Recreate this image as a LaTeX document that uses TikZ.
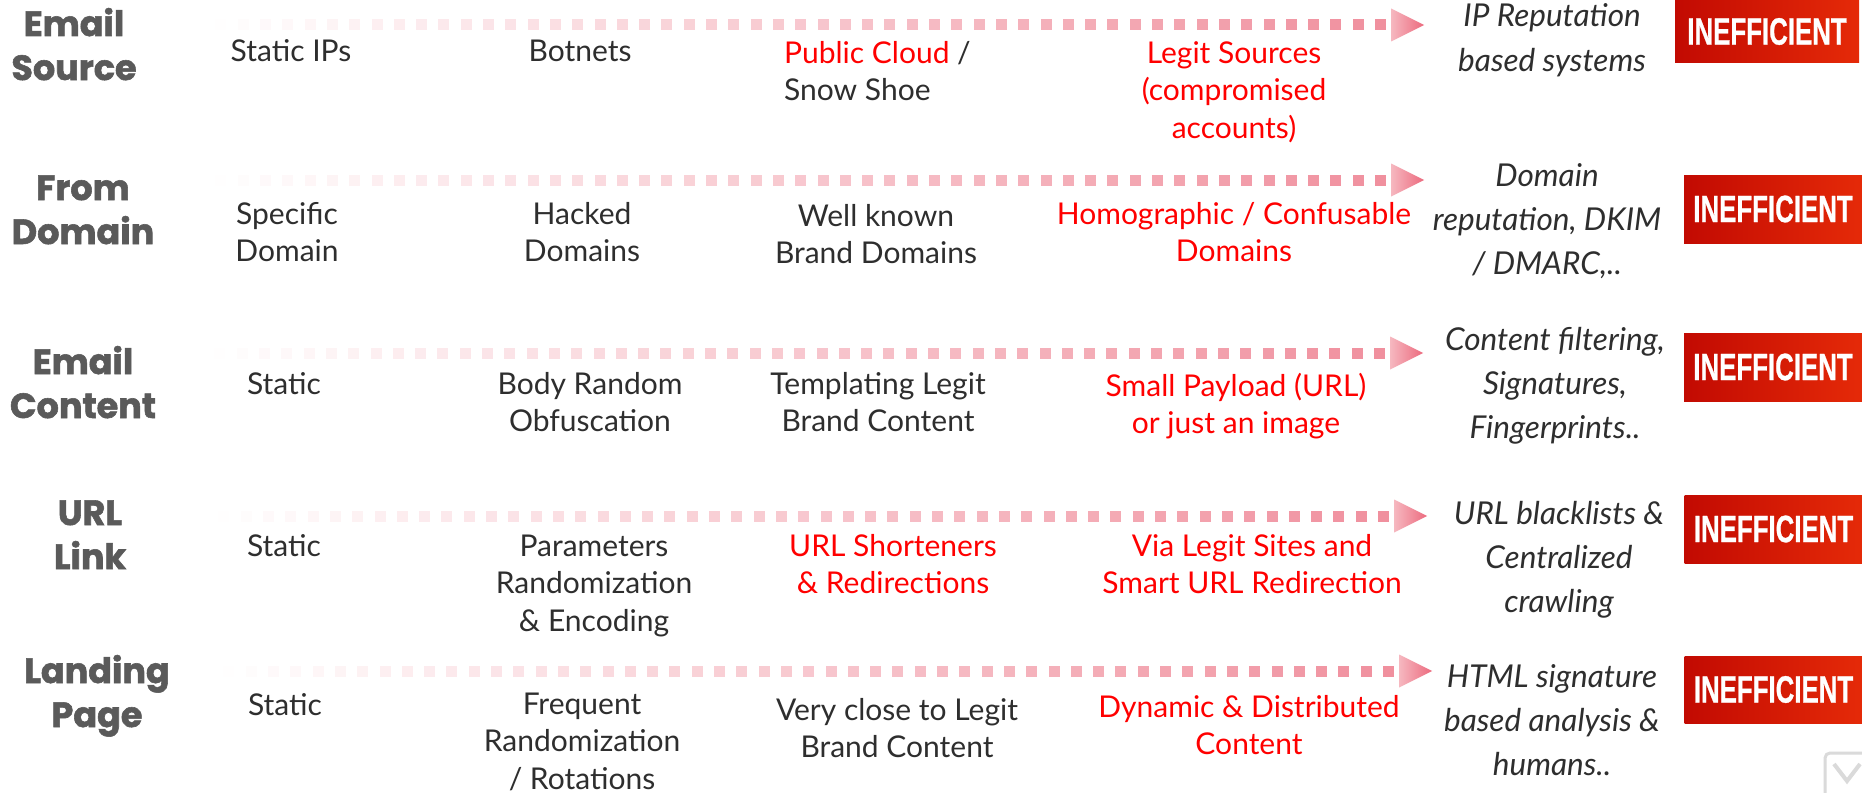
\documentclass[tikz,border=0pt]{standalone}
\usepackage{fontspec}
\usepackage{graphicx}
\setmainfont{Lato}
\newfontfamily\labfont{Poppins}[BoldFeatures={FakeBold=1.6}]
\newfontfamily\badgefont{Liberation Sans}[BoldFeatures={FakeBold=0.8}]
\usetikzlibrary{calc}
\definecolor{txtdark}{HTML}{2E2E2E}
\definecolor{labgray}{HTML}{5A5A5A}
\definecolor{hotred}{HTML}{FF0000}
\definecolor{dotpink}{HTML}{F0909E}
\definecolor{headL}{HTML}{F6B8C0}
\definecolor{headR}{HTML}{EC6A7E}
\definecolor{badgeL}{HTML}{C20A02}
\definecolor{badgeR}{HTML}{E52A08}
\definecolor{badgeD}{HTML}{8E0800}
\definecolor{logogray}{HTML}{DADADA}
\tikzset{
  body/.style={font=\fontsize{30}{37.5}\selectfont, text=txtdark, align=center, inner sep=0pt, anchor=base},
  hot/.style={body, text=hotred},
  method/.style={font=\itshape\fontsize{31.5}{44}\selectfont, text=txtdark, align=center, inner sep=0pt, anchor=base},
  rowlabel/.style={font=\labfont\bfseries\fontsize{35}{44}\selectfont, text=labgray, align=center, inner sep=0pt, anchor=base},
  badge/.style={minimum width=178pt, minimum height=68pt, inner sep=0pt, left color=badgeL, right color=badgeR, text=white, font=\badgefont\bfseries\fontsize{38}{38}\selectfont},
  arrowhead/.style={left color=headL, right color=headR},
}
\newcommand\badgetext{\scalebox{0.68}[1]{INEFFICIENT}}
\begin{document}
\begin{tikzpicture}[x=1pt,y=-1pt]
\useasboundingbox (0,0) rectangle (1862,792);
\fill[white] (0,0) rectangle (1862,792);

% dotted arrows
\foreach \n/\y/\t in {1/25/1424, 2/180/1424, 3/353/1423, 4/516/1427, 5/671/1432} {
  \coordinate (t\n) at (\t,\y);
  \coordinate (h\n) at (\t-33,\y);
  \foreach \i in {0,...,52} {
    \pgfmathtruncatemacro\p{max(0,100-\i*1.9)}
    \fill[dotpink!\p!white] ($(h\n)+(-10.5-\i*22.3,0)$) ++(-5.5,-5.5) rectangle ++(11,11);
  }
  \path[arrowhead] ($(h\n)+(0,-16.5)$) -- (t\n) -- ($(h\n)+(0,16.5)$) -- cycle;
}

% (anchor=base of a multi-line node is the baseline of its last line)
% row 1
\node[rowlabel] (lab1) at (74,80) {Email\\Source};
\node[body] (r1a) at (291,62) {Static IPs};
\node[body] (r1b) at (580,62) {Botnets};
\node[body, align=left, anchor=base west] (r1c) at (784,100.5) {\textcolor{hotred}{Public Cloud} /\\Snow Shoe};
\node[hot] (r1d) at (1234,138) {Legit Sources\\(compromised\\accounts)};
\node[method] (m1) at (1552,71) {IP Reputation\\based systems};
\node[badge, minimum width=184pt, minimum height=63pt] (b1) at (1767,31.5) {\badgetext};

% row 2
\node[rowlabel] (lab2) at (83,244) {From\\Domain};
\node[body] (r2a) at (287,261.5) {Specific\\Domain};
\node[body] (r2b) at (582,261.5) {Hacked\\Domains};
\node[body] (r2c) at (876,263.5) {Well known\\Brand Domains};
\node[hot] (r2d) at (1234,261.5) {Homographic / Confusable\\Domains};
\node[method] (m2) at (1547,274) {Domain\\reputation, DKIM\\/ DMARC,..};
\node[badge] (b2) at (1773,209) {\badgetext};

% row 3
\node[rowlabel] (lab3) at (83,418) {Email\\Content};
\node[body] (r3a) at (284,394) {Static};
\node[body] (r3b) at (590,431.5) {Body Random\\Obfuscation};
\node[body] (r3c) at (878,431.5) {Templating Legit\\Brand Content};
\node[hot] (r3d) at (1236,433.5) {Small Payload (URL)\\or just an image};
\node[method] (m3) at (1555,438) {Content filtering,\\Signatures,\\Fingerprints..};
\node[badge] (b3) at (1773,367) {\badgetext};

% row 4
\node[rowlabel] (lab4) at (90,569) {URL\\Link};
\node[body] (r4a) at (284,556) {Static};
\node[body] (r4b) at (594,631) {Parameters\\Randomization\\\& Encoding};
\node[hot] (r4c) at (893,593.5) {URL Shorteners\\\& Redirections};
\node[hot] (r4d) at (1252,593.5) {Via Legit Sites and\\Smart URL Redirection};
\node[method] (m4) at (1559,612) {URL blacklists \&\\Centralized\\crawling};
\node[badge] (b4) at (1773.5,529) {\badgetext};

% row 5
\node[rowlabel] (lab5) at (97,727) {Landing\\Page};
\node[body] (r5a) at (285,715) {Static};
\node[body] (r5b) at (582,789) {Frequent\\Randomization\\/ Rotations};
\node[body] (r5c) at (897,757.5) {Very close to Legit\\Brand Content};
\node[hot] (r5d) at (1249,754.5) {Dynamic \& Distributed\\Content};
\node[method] (m5) at (1552,775) {HTML signature\\based analysis \&\\humans..};
\node[badge, minimum height=67pt] (b5) at (1773.5,689.5) {\badgetext};

% corner logo
\draw[logogray, line width=3pt, rounded corners=5pt] (1825,753) rectangle (1878,806);
\draw[logogray, line width=4pt] (1834,764) -- (1847,781) -- (1860,764);
\end{tikzpicture}
\end{document}
